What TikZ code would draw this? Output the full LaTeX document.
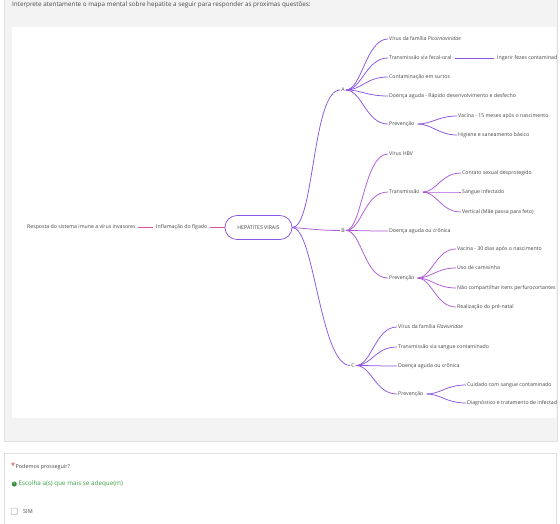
\documentclass[tikz,border=0pt]{standalone}
\usepackage{fontspec}
\setmainfont{Open Sans}
\definecolor{panelgrey}{RGB}{243,243,243}
\definecolor{panelline}{RGB}{225,225,225}
\definecolor{txt}{RGB}{70,70,70}
\definecolor{violetA}{RGB}{140,85,225}
\definecolor{violetB}{RGB}{175,90,215}
\definecolor{rootpink}{RGB}{220,80,160}
\definecolor{okgreen}{RGB}{55,160,65}
\definecolor{reqred}{RGB}{200,40,40}
\begin{document}
\begin{tikzpicture}[x=1pt,y=-1pt,
  lbl/.style={anchor=west,inner sep=1pt,text=txt,font=\fontsize{5.2}{6}\selectfont},
  hub/.style={inner sep=1pt,text=txt,font=\fontsize{5.2}{6}\selectfont},
  brA/.style={draw=violetA,line width=0.75pt},
  brB/.style={draw=violetB,line width=0.75pt},
  rootln/.style={draw=rootpink,line width=0.8pt},
  root/.style={draw=violetA,line width=0.75pt,rounded corners=12pt,minimum width=67pt,minimum height=24pt,inner sep=0pt,text=txt,font=\fontsize{5.2}{6}\selectfont}
]
\useasboundingbox (0,0) rectangle (560,524);
\fill[white] (0,0) rectangle (560,524);

% question panel and map canvas
\filldraw[fill=panelgrey,draw=panelline,line width=0.6pt] (4,-5) rectangle (557,441);
\fill[white] (12,27) rectangle (556,418);
\node[anchor=west,inner sep=0pt,text=txt,font=\fontsize{6.3}{7}\selectfont] (title) at (12,4.5)
  {Interprete atentamente o mapa mental sobre hepatite a seguir para responder as proximas questões:};

\begin{scope}
\clip (12,27) rectangle (556,418);

% left chain and root
\node[lbl] (resp) at (26,227.5) {Resposta do sistema imune a vírus invasores};
\node[lbl] (infl) at (155,227.5) {Inflamação do fígado};
\node[root] (hv) at (258.5,227.5) {HEPATITES VIRAIS};
\draw[rootln] ([xshift=1.5pt]resp.east) -- ([xshift=-2pt]infl.west);
\draw[rootln] ([xshift=1.5pt]infl.east) -- (hv.west);

% main branches
\node[hub] (A) at (343,90) {A};
\node[hub] (B) at (343,230.5) {B};
\node[hub] (C) at (353,365.5) {C};
\draw[brA] (hv.east) .. controls +(22,0) and +(-28,0) .. (A.west);
\draw[brB] (hv.east) .. controls +(15,1) and +(-20,0) .. (B.west);
\draw[brA] (hv.east) .. controls +(22,0) and +(-30,0) .. (C.west);

% branch A
\node[lbl] (a1) at (388,39) {Vírus da família \textit{Picornoviridae}};
\node[lbl] (a2) at (388,58) {Transmissão via fecal-oral};
\node[lbl] (a3) at (388,77) {Contaminação em surtos};
\node[lbl] (a4) at (388,96) {Doença aguda - Rápido desenvolvimento e desfecho};
\node[lbl] (a5) at (388,124) {Prevenção};
\node[lbl] (a21) at (496,58) {Ingerir fezes contaminadas};
\node[lbl] (a51) at (457,116) {Vacina - 15 meses após o nascimento};
\node[lbl] (a52) at (457,135) {Higiene e saneamento básico};
\foreach \n in {a1,a2,a3,a4,a5}
  \draw[brA] (A.east) .. controls +(16,0) and +(-22,0) .. (\n.west);
\draw[brA] ([xshift=2pt]a2.east) -- ([xshift=-2pt]a21.west);
\foreach \n in {a51,a52}
  \draw[brA] ([xshift=2pt]a5.east) .. controls +(14,0) and +(-18,0) .. (\n.west);

% branch B
\node[lbl] (b1) at (388,154) {Vírus HBV};
\node[lbl] (b2) at (388,192) {Transmissão};
\node[lbl] (b3) at (388,231) {Doença aguda ou crônica};
\node[lbl] (b4) at (388,278) {Prevenção};
\node[lbl] (b21) at (461,173) {Contato sexual desprotegido};
\node[lbl] (b22) at (461,192) {Sangue infectado};
\node[lbl] (b23) at (461,212) {Vertical (Mãe passa para feto)};
\node[lbl] (b41) at (456,249) {Vacina - 30 dias após o nascimento};
\node[lbl] (b42) at (456,268) {Uso de camisinha};
\node[lbl] (b43) at (456,288) {Não compartilhar itens perfurocortantes};
\node[lbl] (b44) at (456,307) {Realização do pré-natal};
\foreach \n in {b1,b2,b3,b4}
  \draw[brB] (B.east) .. controls +(16,0) and +(-24,0) .. (\n.west);
\foreach \n in {b21,b22,b23}
  \draw[brB] ([xshift=2pt]b2.east) .. controls +(14,0) and +(-20,0) .. (\n.west);
\foreach \n in {b41,b42,b43,b44}
  \draw[brB] ([xshift=2pt]b4.east) .. controls +(14,0) and +(-20,0) .. (\n.west);

% branch C
\node[lbl] (c1) at (397,327) {Vírus da família \textit{Flaviviridae}};
\node[lbl] (c2) at (397,347) {Transmissão via sangue contaminado};
\node[lbl] (c3) at (397,366) {Doença aguda ou crônica};
\node[lbl] (c4) at (397,394) {Prevenção};
\node[lbl] (c41) at (466,385) {Cuidado com sangue contaminado};
\node[lbl] (c42) at (466,403) {Diagnóstico e tratamento de infectados};
\foreach \n in {c1,c2,c3,c4}
  \draw[brA] (C.east) .. controls +(16,0) and +(-22,0) .. (\n.west);
\foreach \n in {c41,c42}
  \draw[brA] ([xshift=2pt]c4.east) .. controls +(14,0) and +(-20,0) .. (\n.west);
\end{scope}

% answer panel
\filldraw[fill=white,draw=panelline,line width=0.6pt] (4,453) rectangle (556,530);
\node[anchor=west,inner sep=0pt,text=reqred,font=\fontsize{7.5}{7.5}\selectfont] (star) at (11,465.5) {*};
\node[anchor=west,inner sep=0pt,text=txt,font=\fontsize{5.4}{6.5}\selectfont] (ask) at (15.5,467) {Podemos prosseguir?};
\fill[okgreen!85!black] (14.3,484) circle (2.5pt);
\node[inner sep=0pt,text=white,font=\bfseries\fontsize{4}{4}\selectfont] (bang) at (14.3,484) {!};
\node[anchor=west,inner sep=0pt,text=okgreen,font=\fontsize{6.3}{7}\selectfont] (hint) at (18.5,484) {Escolha a(s) que mais se adeque(m)};
\draw[draw=gray!55,line width=0.5pt,rounded corners=1pt] (11,508) rectangle (17.5,514.5);
\node[anchor=west,inner sep=0pt,text=txt,font=\fontsize{5.5}{6.5}\selectfont] (sim) at (23,511.5) {SIM};
\end{tikzpicture}
\end{document}
